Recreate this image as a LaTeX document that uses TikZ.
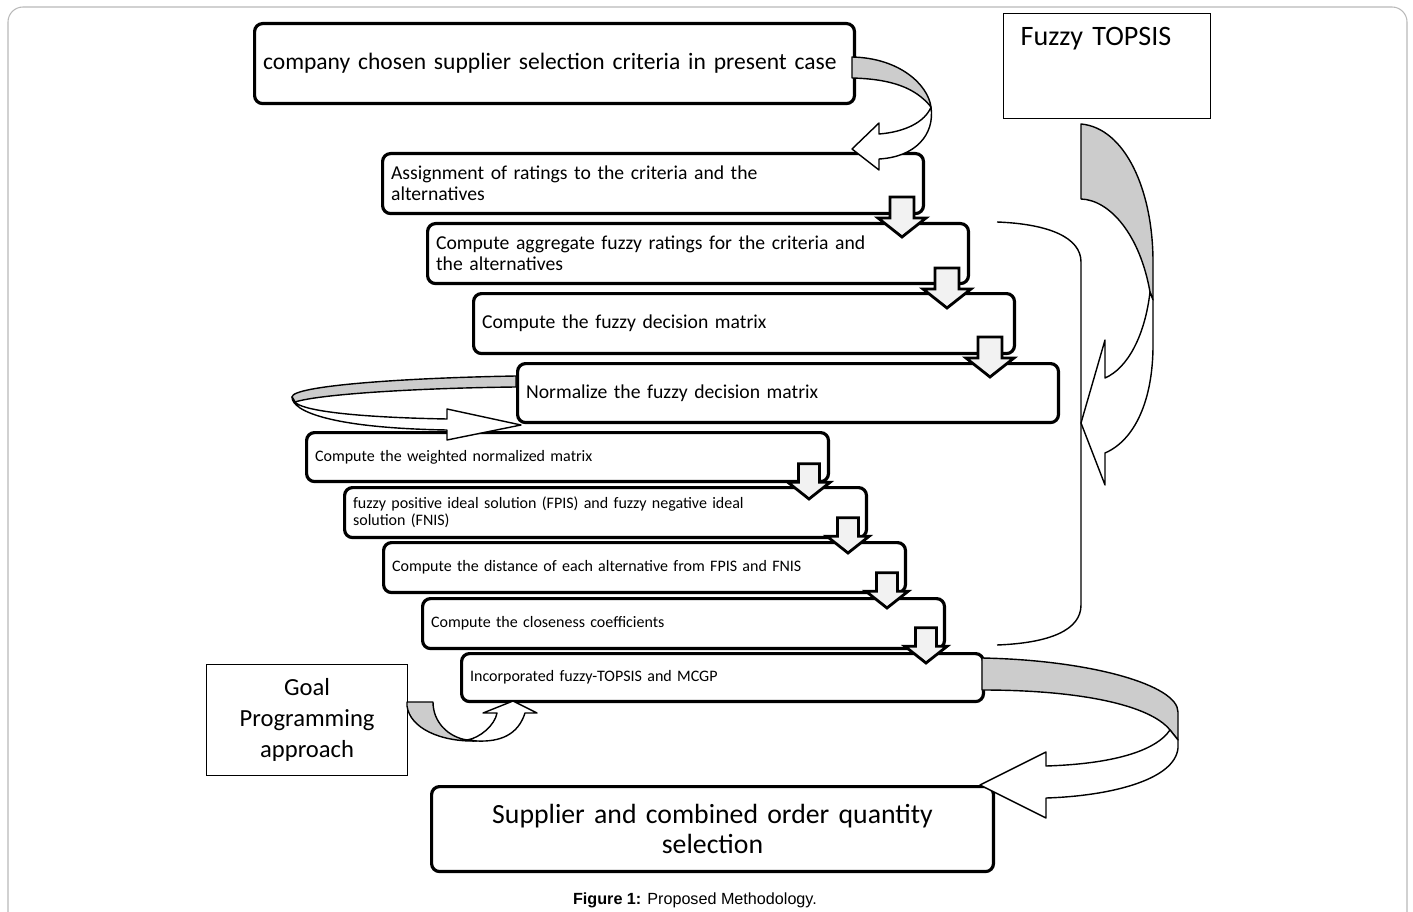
\documentclass[tikz,border=0pt]{standalone}
\usepackage{fontspec}
\setmainfont{Carlito}
\newfontfamily\capfont{Liberation Sans}
\usetikzlibrary{positioning}

\begin{document}
\begin{tikzpicture}[
    x=0.02cm, y=-0.02cm,
    stage/.style={draw, line width=1.8pt, rounded corners=0.16cm, anchor=north west, align=left, inner xsep=0.17cm, inner ysep=0pt},
    sidebox/.style={draw, line width=0.7pt, anchor=north west},
    ribbon/.style={draw, line width=0.8pt, fill=white, line join=round},
    ribbonback/.style={draw, line width=0.8pt, fill=gray!40, line join=round},
    stepdown/.style={draw, line width=1.6pt, fill=gray!10, line join=miter},
    brace/.style={draw, line width=0.8pt}
]
\useasboundingbox (0,0) rectangle (1413,912);
\clip (0,0) rectangle (1413,912);

% frame
\draw[gray!55, line width=0.6pt, rounded corners=0.3cm] (8,7) rectangle (1407,940);

% Fuzzy TOPSIS steps
\node[stage, text width=11.66cm, minimum height=1.6cm, font=\fontsize{13.4}{16}\selectfont] (crit) at (253,22) {company chosen supplier selection criteria in present case};
\node[stage, text width=10.48cm, minimum height=1.2cm, font=\fontsize{11.2}{12}\selectfont] (rate) at (381,152) {Assignment of ratings to the criteria and the\\alternatives};
\node[stage, text width=10.48cm, minimum height=1.2cm, font=\fontsize{11.2}{12}\selectfont] (aggr) at (426,222) {Compute aggregate fuzzy ratings for the criteria and\\the alternatives};
\node[stage, text width=10.48cm, minimum height=1.2cm, font=\fontsize{11.2}{12}\selectfont] (fdm) at (472,292) {Compute the fuzzy decision matrix};
\node[stage, text width=10.48cm, minimum height=1.18cm, font=\fontsize{11.2}{12}\selectfont] (norm) at (516,362) {Normalize the fuzzy decision matrix};
\node[stage, text width=10.1cm, minimum height=0.98cm, font=\fontsize{9.1}{9.6}\selectfont] (wnorm) at (305,431) {Compute the weighted normalized matrix};
\node[stage, text width=10.1cm, minimum height=1.0cm, font=\fontsize{9.1}{9.6}\selectfont] (ideal) at (343,486) {fuzzy positive ideal solution (FPIS) and fuzzy negative ideal\\solution (FNIS)};
\node[stage, text width=10.1cm, minimum height=1.0cm, font=\fontsize{9.1}{9.6}\selectfont] (dist) at (382,541) {Compute the distance of each alternative from FPIS and FNIS};
\node[stage, text width=10.1cm, minimum height=1.0cm, font=\fontsize{9.1}{9.6}\selectfont] (close) at (421,597) {Compute the closeness coefficients};
\node[stage, text width=10.1cm, minimum height=0.96cm, font=\fontsize{9.1}{9.6}\selectfont] (incorp) at (460,652) {Incorporated fuzzy-TOPSIS and MCGP};
\node[stage, text width=10.9cm, minimum height=1.7cm, align=center, font=\fontsize{15.8}{17}\selectfont] (final) at (430,785) {Supplier and combined order quantity\\selection};

% side boxes
\node[sidebox, text width=3.46cm, inner xsep=0.34cm, inner ysep=0.2cm, text height=0.44cm, text depth=1.26cm, align=left, font=\fontsize{16}{19}\selectfont] (topsis) at (1003,13) {Fuzzy TOPSIS};
\node[sidebox, minimum width=4.02cm, minimum height=2.22cm, align=center, font=\fontsize{14}{17.6}\selectfont] (goal) at (206,664) {Goal\\Programming\\approach};

% bracket
\draw[brace] (997,222) .. controls (1050,224) and (1081,238) .. (1081,262) -- (1081,605) .. controls (1081,630) and (1050,643) .. (997,645);

% curved arrows
\draw[ribbonback] (852,57) .. controls (900,58) and (928,85) .. (931,107) .. controls (915,87) and (890,79) .. (852,78) -- cycle;
\draw[ribbon] (931,107) .. controls (935,135) and (915,157) .. (879,159) -- (879,170) -- (852,149) -- (879,123) -- (879,134) .. controls (905,132) and (925,122) .. (931,107) -- cycle;

\draw[ribbonback] (1081,124) .. controls (1125,128) and (1153,190) .. (1153,262) -- (1153,300) -- (1150,292) .. controls (1140,235) and (1110,200) .. (1081,199) -- cycle;
\draw[ribbon] (1150,292) -- (1153,300) -- (1153,345) .. controls (1153,400) and (1135,440) .. (1105,453) -- (1105,485) -- (1081,423) -- (1105,340) -- (1105,378) .. controls (1128,368) and (1145,335) .. (1150,292) -- cycle;

\draw[ribbonback] (516,376) .. controls (400,378) and (292,386) .. (292,397) -- (295,402) .. controls (320,394) and (420,388) .. (516,387) -- cycle;
\draw[ribbon] (292,397) .. controls (292,411) and (330,428) .. (447,430) -- (447,440) -- (521,425) -- (447,409) -- (447,419) .. controls (340,417) and (300,409) .. (295,402) -- cycle;

\draw[ribbonback] (407,702) -- (433,702) .. controls (433,722) and (448,737) .. (467,740) -- (477,741) .. controls (440,742) and (410,728) .. (407,706) -- cycle;
\draw[ribbon] (467,740) .. controls (480,738) and (495,725) .. (497,713) -- (483,713) -- (513,701) -- (537,713) -- (525,713) .. controls (518,735) and (500,742) .. (477,741) -- cycle;

\draw[ribbonback] (982,658) .. controls (1090,660) and (1178,685) .. (1178,712) -- (1178,740) -- (1170,730) .. controls (1150,705) and (1080,690) .. (982,690) -- cycle;
\draw[ribbon] (1170,730) -- (1178,740) -- (1178,748) .. controls (1175,780) and (1110,796) .. (1046,798) -- (1046,818) -- (980,785) -- (1046,752) -- (1046,766) .. controls (1110,764) and (1155,752) .. (1170,730) -- cycle;

% step arrows
\foreach \tx/\ty/\s in {902/237/1, 947/308/1, 990/377/1, 809/499/0.88, 848/553/0.88, 887/608/0.88, 926/663/0.88} {
    \draw[stepdown] (\tx-12*\s, \ty-40*\s) -- (\tx+12*\s, \ty-40*\s) -- (\tx+12*\s, \ty-19*\s) -- (\tx+24*\s, \ty-19*\s) -- (\tx, \ty) -- (\tx-24*\s, \ty-19*\s) -- (\tx-12*\s, \ty-19*\s) -- cycle;
}

\node[font=\capfont\fontsize{9.2}{11}\selectfont] (caption) at (695,900) {\textbf{Figure 1:} Proposed Methodology.};

\end{tikzpicture}
\end{document}
